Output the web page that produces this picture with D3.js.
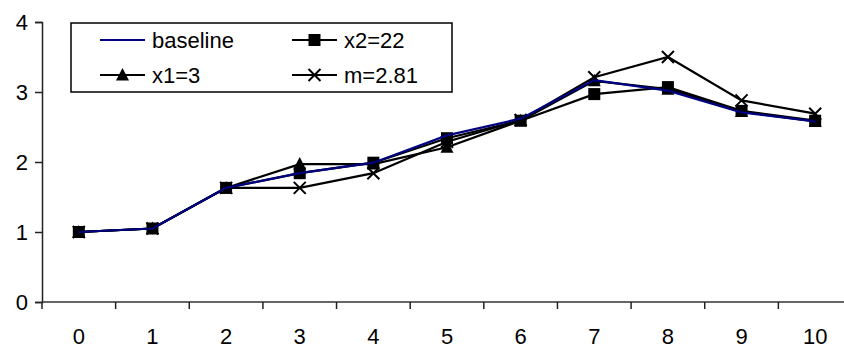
<!DOCTYPE html>
<html>
<head>
<meta charset="utf-8">
<script src="https://cdn.jsdelivr.net/npm/d3@7"></script>
<style>
  body { margin: 0; background: #fff; }
  svg { display: block; }
  text { font-family: Arial, "Liberation Sans", sans-serif; font-size: 22px; fill: #000; }
</style>
</head>
<body>
<div id="chart"></div>
<script>
// values
var categories = ["0","1","2","3","4","5","6","7","8","9","10"];
var baseline = [1.0, 1.05, 1.63, 1.84, 1.99, 2.38, 2.62, 3.17, 3.02, 2.71, 2.58];
var x2_22    = [1.0, 1.05, 1.63, 1.84, 1.99, 2.34, 2.59, 2.97, 3.07, 2.73, 2.59];
var x1_3     = [1.0, 1.05, 1.63, 1.97, 1.97, 2.21, 2.59, 3.16, 3.04, 2.72, 2.58];
var m_281    = [1.0, 1.05, 1.63, 1.63, 1.84, 2.29, 2.60, 3.21, 3.50, 2.88, 2.69];
var yTicks = [0, 1, 2, 3, 4];

var series = [
  {name: "baseline", values: baseline, color: "#000080", marker: "none"},
  {name: "x2=22", values: x2_22, color: "#000", marker: "square"},
  {name: "x1=3", values: x1_3, color: "#000", marker: "triangle"},
  {name: "m=2.81", values: m_281, color: "#000", marker: "cross"}
];

var margin = {top: 22, left: 42, bottom: 302},
  width = 844, height = 347;
var plotRight = 852; // plot runs a bit past the window edge, like the original

var svg = d3.select("#chart").append("svg")
  .attr("width", width)
  .attr("height", height);

var xscale = d3.scaleBand().domain(categories).range([margin.left, plotRight]);
var yscale = d3.scaleLinear().domain([0, 4]).range([margin.bottom, margin.top]);

// y axis
var yAxis = d3.axisLeft(yscale).tickValues(yTicks).tickSize(7).tickPadding(7).tickFormat(d3.format("d"));
var gy = svg.append("g").attr("transform", "translate(" + margin.left + ",0)").call(yAxis);
gy.select(".domain").attr("stroke", "#222").attr("stroke-width", 1.5);
gy.selectAll(".tick line").attr("stroke", "#222").attr("stroke-width", 1.5);
gy.selectAll(".tick text").attr("dy", "0.36em").style("font-size", "22px")
  .style("font-family", "Arial, 'Liberation Sans', sans-serif").attr("fill", "#000");

// x axis: ticks between categories
var gx = svg.append("g").attr("transform", "translate(0," + margin.bottom + ")");
gx.append("line").attr("x1", margin.left).attr("x2", plotRight).attr("y1", 0).attr("y2", 0)
  .attr("stroke", "#333").attr("stroke-width", 1.5);
var bounds = categories.map(function(c){ return xscale(c); }).concat([plotRight]);
gx.selectAll(".tk").data(bounds).enter().append("line")
  .attr("x1", function(d){ return d; }).attr("x2", function(d){ return d; })
  .attr("y1", 0).attr("y2", 7)
  .attr("stroke", "#222").attr("stroke-width", 1.5);
gx.selectAll(".lbl").data(categories).enter().append("text")
  .attr("x", function(d){ return xscale(d) + xscale.bandwidth() / 2; })
  .attr("y", 42)
  .attr("text-anchor", "middle")
  .text(function(d){ return d; });

function cx(i){ return xscale(categories[i]) + xscale.bandwidth() / 2; }

var line = d3.line()
  .x(function(d, i){ return cx(i); })
  .y(function(d){ return yscale(d); });

function drawMarker(g, type, x, y) {
  if (type == "square") {
    g.append("rect").attr("x", x - 6).attr("y", y - 6).attr("width", 12).attr("height", 12).attr("fill", "#000");
  } else if (type == "triangle") {
    g.append("path").attr("d", "M" + x + "," + (y - 7) + "L" + (x + 6.5) + "," + (y + 5.5) + "L" + (x - 6.5) + "," + (y + 5.5) + "Z").attr("fill", "#000");
  } else if (type == "cross") {
    g.append("path").attr("d", "M" + (x - 6) + "," + (y - 6) + "L" + (x + 6) + "," + (y + 6) + "M" + (x + 6) + "," + (y - 6) + "L" + (x - 6) + "," + (y + 6))
      .attr("stroke", "#000").attr("stroke-width", 2).attr("fill", "none");
  }
}

// draw in reverse so baseline ends up on top like the original
var drawOrder = [series[3], series[2], series[1], series[0]];
drawOrder.forEach(function(s){
  var g = svg.append("g");
  g.append("path").datum(s.values)
    .attr("d", line)
    .attr("fill", "none")
    .attr("stroke", s.color)
    .attr("stroke-width", 2.2);
  s.values.forEach(function(v, i){ drawMarker(g, s.marker, cx(i), yscale(v)); });
});

// legend
var lg = svg.append("g");
lg.append("rect").attr("x", 71).attr("y", 23).attr("width", 381).attr("height", 69)
  .attr("fill", "#fff").attr("stroke", "#000").attr("stroke-width", 1.5);
var legendPos = [[100, 40], [292, 40], [100, 75], [292, 75]];
series.forEach(function(s, i){
  var px = legendPos[i][0], py = legendPos[i][1];
  lg.append("line").attr("x1", px).attr("x2", px + 45).attr("y1", py).attr("y2", py)
    .attr("stroke", s.color).attr("stroke-width", 2);
  drawMarker(lg, s.marker, px + 22.5, py);
  lg.append("text").attr("x", px + 52).attr("y", py).attr("dy", "0.36em").text(s.name);
});
</script>
</body>
</html>
